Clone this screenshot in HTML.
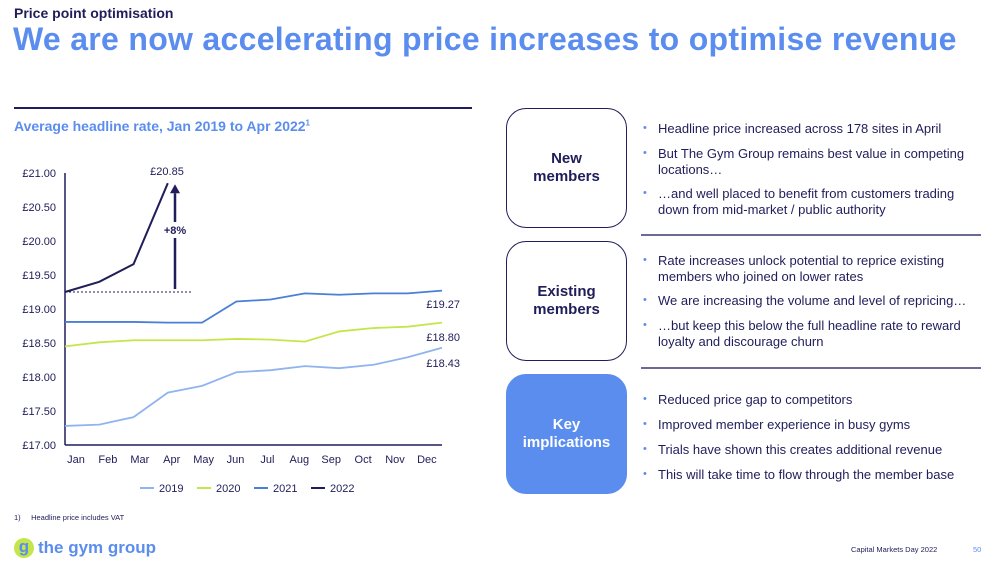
<!DOCTYPE html>
<html><head><meta charset="utf-8"><style>
body{margin:0;width:989px;height:561px;overflow:hidden;background:#fff;font-family:"Liberation Sans",sans-serif;position:relative;color:#1f1d5a}
.abs{position:absolute}
.box{position:absolute;left:506px;width:119px;height:118px;border:1.5px solid #1f1d5a;border-radius:20px;display:flex;align-items:center;justify-content:center;text-align:center;font-weight:bold;font-size:15px;line-height:18px;color:#1f1d5a}
.li{position:absolute;left:658px;font-size:13px;line-height:15.5px;color:#1f1d5a;width:330px}
.li:before{content:"•";position:absolute;left:-15px;color:#5b8def;font-size:11px}
.div{position:absolute;left:641px;width:340px;height:1.5px;background:#6b6a96}
</style></head><body>
<div class="abs" style="left:14px;top:5px;font-size:14px;font-weight:bold">Price point optimisation</div>
<div class="abs" style="left:13px;top:21px;font-size:32px;font-weight:bold;color:#5b8def;letter-spacing:0.3px">We are now accelerating price increases to optimise revenue</div>
<div class="abs" style="left:14px;top:107px;width:458px;height:1.5px;background:#1f1d5a"></div>
<div class="abs" style="left:14px;top:118px;font-size:14px;font-weight:bold;color:#5b8def">Average headline rate, Jan 2019 to Apr 2022<sup style="font-size:8px">1</sup></div>
<svg class="abs" style="left:0;top:0" width="480" height="500" id="chart"></svg>
<div class="box" style="top:108px">New<br>members</div>
<div class="box" style="top:241px">Existing<br>members</div>
<div class="box" style="top:374px;background:#5b8def;border-color:#5b8def;color:#fff">Key<br>implications</div>
<div class="li" style="top:121px">Headline price increased across 178 sites in April</div>
<div class="li" style="top:146px">But The Gym Group remains best value in competing locations…</div>
<div class="li" style="top:186px">…and well placed to benefit from customers trading down from mid-market / public authority</div>
<div class="div" style="top:234px"></div>
<div class="li" style="top:253px">Rate increases unlock potential to reprice existing members who joined on lower rates</div>
<div class="li" style="top:293px">We are increasing the volume and level of repricing…</div>
<div class="li" style="top:318px">…but keep this below the full headline rate to reward loyalty and discourage churn</div>
<div class="div" style="top:367px"></div>
<div class="li" style="top:392px">Reduced price gap to competitors</div>
<div class="li" style="top:417px">Improved member experience in busy gyms</div>
<div class="li" style="top:442px">Trials have shown this creates additional revenue</div>
<div class="li" style="top:467px">This will take time to flow through the member base</div>
<div class="abs" style="left:14px;top:513px;font-size:7.5px;color:#1f1d5a">1)&nbsp;&nbsp;&nbsp;&nbsp;&nbsp;Headline price includes VAT</div>
<div class="abs" style="left:14px;top:538px;display:flex;align-items:center">
<div style="width:20px;height:20px;border-radius:50%;background:#c5e64a;color:#5b8def;font-weight:bold;font-size:17px;line-height:18px;text-align:center">g</div>
<span style="margin-left:4px;font-size:17px;font-weight:bold;color:#5b8def">the gym group</span></div>
<div class="abs" style="left:851px;top:545px;font-size:7.5px">Capital Markets Day 2022</div>
<div class="abs" style="left:973px;top:545px;font-size:7.5px;color:#5b8def">50</div>
<script>
const months=["Jan","Feb","Mar","Apr","May","Jun","Jul","Aug","Sep","Oct","Nov","Dec"];
const yTicks=[17,17.5,18,18.5,19,19.5,20,20.5,21];
const s2019=[17.28,17.30,17.41,17.77,17.87,18.07,18.10,18.16,18.13,18.18,18.29,18.43];
const s2020=[18.45,18.51,18.54,18.54,18.54,18.56,18.55,18.52,18.67,18.72,18.74,18.80];
const s2021=[18.81,18.81,18.81,18.80,18.80,19.11,19.14,19.23,19.21,19.23,19.23,19.27];
const s2022=[19.25,19.40,19.66,20.85];
const seriesNames=["2019","2020","2021","2022"];
const endLabels=["£18.43","£18.80","£19.27"];
const svg=document.getElementById('chart');const NS="http://www.w3.org/2000/svg";
const X=i=>65+i*(377/11);const Y=v=>445-(v-17)*68;
function mk(t,a,txt){const e=document.createElementNS(NS,t);for(const k in a)e.setAttribute(k,a[k]);if(txt!=null)e.textContent=txt;svg.appendChild(e);return e;}
yTicks.forEach(v=>{const e=mk('text',{x:56,y:Y(v)+4,'text-anchor':'end','font-size':11,fill:'#1f1d5a'},'£'+v.toFixed(2));

});
months.forEach((m,i)=>{const e=mk('text',{x:76+i*31.9,y:463,'text-anchor':'middle','font-size':11,fill:'#1f1d5a'},m);

});
mk('line',{x1:65,y1:173,x2:65,y2:445,stroke:'#1f1d5a','stroke-width':1.5});
mk('line',{x1:65,y1:445,x2:442,y2:445,stroke:'#1f1d5a','stroke-width':1.5});
mk('line',{x1:65,y1:Y(s2022[0]),x2:192,y2:Y(s2022[0]),stroke:'#1f1d5a','stroke-dasharray':'2,2','stroke-width':1});
const colors=['#8fb4ef','#c5e64a','#4a7fd6','#1f1d5a'];
[s2019,s2020,s2021,s2022].forEach((s,k)=>{const p=mk('polyline',{points:s.map((v,i)=>X(i)+','+Y(v)).join(' '),fill:'none',stroke:colors[k],'stroke-width':k==3?2:1.8});

});
const ay=Y(s2022[0]);
mk('line',{x1:175,y1:ay-3,x2:175,y2:Y(s2022[3])+10,stroke:'#1f1d5a','stroke-width':2.5});
mk('polygon',{points:`170,${Y(s2022[3])+10} 180,${Y(s2022[3])+10} 175,${Y(s2022[3])+1}`,fill:'#1f1d5a'});
mk('rect',{x:160,y:222,width:30,height:16,fill:'#fff'});
mk('text',{x:175,y:234,'text-anchor':'middle','font-size':11,'font-weight':'bold',fill:'#1f1d5a'},'+8%');
mk('text',{x:167,y:175,'text-anchor':'middle','font-size':11,fill:'#1f1d5a'},'£'+s2022[3].toFixed(2));
[[s2019,0,14],[s2020,1,12],[s2021,2,-8]].forEach(([s,k,dy])=>{});
mk('text',{x:460,y:367,'text-anchor':'end','font-size':11,fill:'#1f1d5a'},endLabels[0]);
mk('text',{x:460,y:341,'text-anchor':'end','font-size':11,fill:'#1f1d5a'},endLabels[1]);
mk('text',{x:460,y:308,'text-anchor':'end','font-size':11,fill:'#1f1d5a'},endLabels[2]);
seriesNames.forEach((n,k)=>{const x0=140+k*57;
const l=mk('line',{x1:x0,y1:488,x2:x0+14,y2:488,stroke:colors[k],'stroke-width':2});


const t=mk('text',{x:x0+19,y:492,'font-size':11,fill:'#1f1d5a'},n);

});
</script>
</body></html>
